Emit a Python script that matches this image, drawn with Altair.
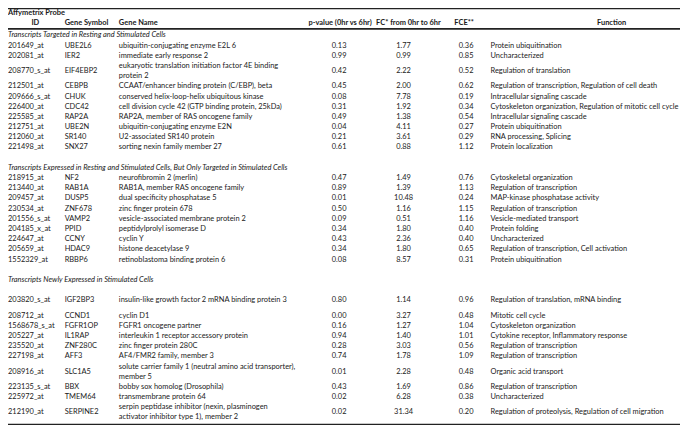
import altair as alt
import pandas as pd

# ---------------- data ----------------
section_titles = [
    "Transcripts Targeted in Resting and Stimulated Cells",
    "Transcripts Expressed in Resting and Stimulated Cells, But Only Targeted in Stimulated Cells",
    "Transcripts Newly Expressed in Stimulated Cells",
]
section_sizes = [10, 9, 10]

probe_ids = ["201649_at", "202081_at", "208770_s_at", "212501_at", "209666_s_at", "226400_at",
             "225585_at", "212751_at", "212060_at", "221498_at",
             "218915_at", "213440_at", "209457_at", "230534_at", "201556_s_at", "204185_x_at",
             "224647_at", "205659_at", "1552329_at",
             "203820_s_at", "208712_at", "1568678_s_at", "205227_at", "235520_at", "227198_at",
             "208916_at", "223135_s_at", "225972_at", "212190_at"]

gene_symbols = ["UBE2L6", "IER2", "EIF4EBP2", "CEBPB", "CHUK", "CDC42", "RAP2A", "UBE2N", "SR140", "SNX27",
                "NF2", "RAB1A", "DUSP5", "ZNF678", "VAMP2", "PPID", "CCNY", "HDAC9", "RBBP6",
                "IGF2BP3", "CCND1", "FGFR1OP", "IL1RAP", "ZNF280C", "AFF3", "SLC1A5", "BBX", "TMEM64", "SERPINE2"]

gene_names = [
    ["ubiquitin-conjugating enzyme E2L 6"],
    ["immediate early response 2"],
    ["eukaryotic translation initiation factor 4E binding", "protein 2"],
    ["CCAAT/enhancer binding protein (C/EBP), beta"],
    ["conserved helix-loop-helix ubiquitous kinase"],
    ["cell division cycle 42 (GTP binding protein, 25kDa)"],
    ["RAP2A, member of RAS oncogene family"],
    ["ubiquitin-conjugating enzyme E2N"],
    ["U2-associated SR140 protein"],
    ["sorting nexin family member 27"],
    ["neurofibromin 2 (merlin)"],
    ["RAB1A, member RAS oncogene family"],
    ["dual specificity phosphatase 5"],
    ["zinc finger protein 678"],
    ["vesicle-associated membrane protein 2"],
    ["peptidylprolyl isomerase D"],
    ["cyclin Y"],
    ["histone deacetylase 9"],
    ["retinoblastoma binding protein 6"],
    ["insulin-like growth factor 2 mRNA binding protein 3"],
    ["cyclin D1"],
    ["FGFR1 oncogene partner"],
    ["interleukin 1 receptor accessory protein"],
    ["zinc finger protein 280C"],
    ["AF4/FMR2 family, member 3"],
    ["solute carrier family 1 (neutral amino acid transporter),", "member 5"],
    ["bobby sox homolog (Drosophila)"],
    ["transmembrane protein 64"],
    ["serpin peptidase inhibitor (nexin, plasminogen", "activator inhibitor type 1), member 2"],
]

p_values = [0.13, 0.99, 0.42, 0.45, 0.08, 0.31, 0.49, 0.04, 0.21, 0.61,
            0.47, 0.89, 0.01, 0.50, 0.09, 0.34, 0.43, 0.34, 0.08,
            0.80, 0.00, 0.16, 0.94, 0.28, 0.74, 0.01, 0.43, 0.02, 0.02]

fold_changes = [1.77, 0.99, 2.22, 2.00, 7.78, 1.92, 1.38, 4.11, 3.61, 0.88,
                1.49, 1.39, 10.48, 1.16, 0.51, 1.80, 2.36, 1.80, 8.57,
                1.14, 3.27, 1.27, 1.40, 3.03, 1.78, 2.28, 1.69, 6.28, 31.34]

fce_values = [0.36, 0.85, 0.52, 0.62, 0.19, 0.34, 0.54, 0.27, 0.29, 1.12,
              0.76, 1.13, 0.24, 1.15, 1.16, 0.40, 0.40, 0.65, 0.31,
              0.96, 0.48, 1.04, 1.01, 0.56, 1.09, 0.48, 0.86, 0.38, 0.20]

functions = [
    "Protein ubiquitination", "Uncharacterized", "Regulation of translation",
    "Regulation of transcription, Regulation of cell death", "Intracellular signaling cascade",
    "Cytoskeleton organization, Regulation of mitotic cell cycle", "Intracellular signaling cascade",
    "Protein ubiquitination", "RNA processing, Splicing", "Protein localization",
    "Cytoskeletal organization", "Regulation of transcription", "MAP-kinase phosphatase activity",
    "Regulation of transcription", "Vesicle-mediated transport", "Protein folding", "Uncharacterized",
    "Regulation of transcription, Cell activation", "Protein ubiquitination",
    "Regulation of translation, mRNA binding", "Mitotic cell cycle", "Cytoskeleton organization",
    "Cytokine receptor, Inflammatory response", "Regulation of transcription",
    "Regulation of transcription", "Organic acid transport", "Regulation of transcription",
    "Uncharacterized", "Regulation of proteolysis, Regulation of cell migration",
]

header_top = "Affymetrix Probe"
header_cols = ["ID", "Gene Symbol", "Gene Name", "p-value (0hr vs 6hr)", "FC* from 0hr to 6hr", "FCE**", "Function"]

# ---------------- layout ----------------
IMG_W, IMG_H = 688, 433
PLOT_W, PLOT_H = 672, 417
ROW_PX = 10.58
FIRST_ROW_PX = 39.0
FONT = "Lato"
FS = 7.45
INK = "#1a1a1a"

col_x = {"id": 0, "sym": 58, "name": 113.5, "p": 339, "fc": 405, "fce": 469, "func": 494}
header_x = {"ID": (28, "c"), "Gene Symbol": (58, "l"), "Gene Name": (113.5, "l"),
            "p-value (0hr vs 6hr)": (340, "c"), "FC* from 0hr to 6hr": (410, "c"),
            "FCE**": (467, "c"), "Function": (618, "c")}

extra_height = {19: 2}        # taller spreadsheet row
spacer_before = {19: 0.5}

cells = []
def add(x, u, text, kind):
    cells.append({"x": x, "u": u, "text": text, "kind": kind})

add(0, -3.2, header_top, "hl")
for h in header_cols:
    x, a = header_x[h]
    add(x, -2.2, h, "hl" if a == "l" else "hc")

cursor = -1.5
row = 0
for s, (title, n) in enumerate(zip(section_titles, section_sizes)):
    if s > 0:
        cursor += 1.0  # blank row
    add(0, cursor + 0.5, title, "sec")
    cursor += 1.0
    for _ in range(n):
        cursor += spacer_before.get(row, 0)
        lines = gene_names[row]
        h = max(len(lines), extra_height.get(row, 1))
        c = cursor + h / 2
        add(col_x["id"], c, probe_ids[row], "bl")
        add(col_x["sym"], c, gene_symbols[row], "bl")
        for k, ln in enumerate(lines):
            add(col_x["name"], c + (k - (len(lines) - 1) / 2), ln, "bl")
        add(col_x["p"], c, f"{p_values[row]:.2f}", "bc")
        add(col_x["fc"], c, f"{fold_changes[row]:.2f}", "bc")
        add(col_x["fce"], c, f"{fce_values[row]:.2f}", "bc")
        add(col_x["func"], c, functions[row], "bl")
        cursor += h
        row += 1

df = pd.DataFrame(cells)

u_top = -FIRST_ROW_PX / ROW_PX
u_bot = (IMG_H - FIRST_ROW_PX) / ROW_PX
xs = alt.Scale(domain=[0, IMG_W], nice=False, zero=False)
ys = alt.Scale(domain=[u_top, u_bot], nice=False, zero=False, reverse=True)

rules = pd.DataFrame({
    "u": [u_top + 0.6 / ROW_PX, (21.7 - FIRST_ROW_PX) / ROW_PX, cursor + 0.35],
    "w": [1.2, 1.6, 4.5],
})

base = alt.Chart(df)

def text_layer(kind, align, weight="normal", style="normal"):
    return base.transform_filter(alt.datum.kind == kind).mark_text(
        align=align, baseline="middle", font=FONT, fontSize=FS, color=INK,
        fontWeight=weight, fontStyle=style
    ).encode(
        x=alt.X("x:Q", scale=xs, axis=None),
        y=alt.Y("u:Q", scale=ys, axis=None),
        text="text:N",
    )

rule_layer = alt.Chart(rules).mark_rule(color="#222222").encode(
    x=alt.value(0), x2=alt.value(PLOT_W),
    y=alt.Y("u:Q", scale=ys, axis=None),
    strokeWidth=alt.StrokeWidth("w:Q", scale=None, legend=None),
)

chart = alt.layer(
    rule_layer,
    text_layer("hl", "left", weight="bold"),
    text_layer("hc", "center", weight="bold"),
    text_layer("sec", "left", style="italic"),
    text_layer("bl", "left"),
    text_layer("bc", "center"),
).properties(
    width=PLOT_W, height=PLOT_H, padding=0, autosize="none", background="white"
).configure_view(stroke=None)

chart.save("out.html", embed_options={"renderer": "svg", "actions": False})
